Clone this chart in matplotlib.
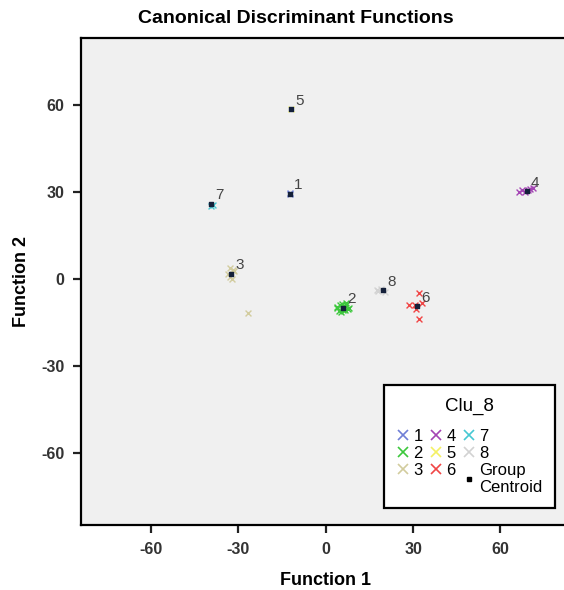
"""Canonical discriminant functions scatter (Clu_8), redrawn with matplotlib."""
import matplotlib

matplotlib.use("Agg")
import matplotlib.pyplot as plt
from matplotlib.lines import Line2D

plt.rcParams["font.family"] = ["Liberation Sans", "DejaVu Sans"]
plt.rcParams["axes.unicode_minus"] = False

CLUSTERS = ["1", "2", "3", "4", "5", "6", "7", "8"]
COLORS = ["#6f7fd6", "#3cc83c", "#d2cc9e", "#a444b4", "#f4f064", "#f04646", "#46c8d2", "#d2d2d2"]

# group centroids (function 1, function 2)
CENT_X = [-12.4, 5.9, -32.4, 69.0, -12.0, 31.4, -39.3, 19.7]
CENT_Y = [29.3, -10.0, 1.7, 30.3, 58.6, -9.6, 25.9, -4.0]

# individual cases per cluster
CASES_X = {
    "1": [-12.4, -12.2],
    "2": [4.0, 5.0, 6.5, 7.5, 5.5, 4.5, 7.0, 6.0, 3.8, 8.0, 5.2, 6.8],
    "3": [-33.5, -31.5, -32.8, -31.8, -33.0, -32.0, -26.6],
    "4": [66.5, 67.5, 68.5, 70.0, 71.0, 69.5],
    "5": [-12.0],
    "6": [32.0, 28.6, 32.0, 30.5, 33.0, 31.0],
    "7": [-39.5, -38.8],
    "8": [18.0, 19.0, 20.5, 17.5],
}
CASES_Y = {
    "1": [29.3, 29.5],
    "2": [-10.0, -9.0, -11.0, -10.5, -8.8, -11.2, -9.2, -10.8, -9.8, -10.2, -11.5, -8.5],
    "3": [1.5, 2.5, 0.5, 3.0, 3.5, 0.0, -12.0],
    "4": [30.0, 30.5, 30.0, 30.8, 31.2, 30.4],
    "5": [58.6],
    "6": [-4.9, -9.2, -13.9, -9.0, -8.5, -10.5],
    "7": [25.0, 25.4],
    "8": [-4.2, -3.6, -4.5, -4.0],
}

XTICKS = [-60, -30, 0, 30, 60]
YTICKS = [-60, -30, 0, 30, 60]


def main():
    fig = plt.figure(figsize=(5.64, 5.90), dpi=100)
    ax = fig.add_axes([0.1436, 0.1102, 0.86, 0.8254])
    ax.set_facecolor("#f0f0f0")

    for name, color in zip(CLUSTERS, COLORS):
        ax.scatter(CASES_X[name], CASES_Y[name], marker="x", s=18,
                   color=color, linewidths=1.0, zorder=2)

    ax.scatter(CENT_X, CENT_Y, marker="s", s=12, color="#14203a", zorder=3)
    for name, cx, cy in zip(CLUSTERS, CENT_X, CENT_Y):
        ax.annotate(name, (cx, cy), textcoords="offset points", xytext=(3, 3),
                    fontsize=11, color="#444444", zorder=4)

    ax.set_xlim(-84, 82.5)
    ax.set_ylim(-85, 83)
    ax.set_xticks(XTICKS)
    ax.set_yticks(YTICKS)
    ax.tick_params(length=6, width=1.6, labelsize=11.5, colors="#222222", pad=6)
    for lab in ax.get_xticklabels() + ax.get_yticklabels():
        lab.set_fontweight("bold")
        lab.set_color("#333333")
    for side in ("left", "bottom", "top"):
        ax.spines[side].set_linewidth(1.6)
    ax.spines["right"].set_visible(False)

    ax.set_xlabel("Function 1", fontsize=13, fontweight="bold", labelpad=11)
    ax.xaxis.label.set_x(0.505)
    ax.set_ylabel("Function 2", fontsize=13, fontweight="bold", labelpad=8)
    fig.text(0.525, 0.968, "Canonical Discriminant Functions", fontsize=14,
             fontweight="bold", ha="center", va="center")

    handles = [Line2D([], [], linestyle="none", marker="x", markersize=7,
                      markeredgewidth=1.2, color=c, label=n)
               for n, c in zip(CLUSTERS, COLORS)]
    handles.append(Line2D([], [], linestyle="none", marker="s", markersize=3.5,
                          color="#000000", label="Group\nCentroid"))
    leg = ax.legend(handles=handles, ncol=3, title="Clu_8", title_fontsize=13.5,
                    fontsize=12, loc="upper left", mode="expand",
                    bbox_to_anchor=(0.625, 0.031, 0.352, 0.256),
                    frameon=True, fancybox=False, framealpha=1, edgecolor="black",
                    handlelength=0.8, handletextpad=0.2, columnspacing=0.4,
                    labelspacing=0.12, borderpad=0.75, borderaxespad=0)
    leg.get_frame().set_linewidth(1.6)
    leg._legend_box.align = "center"
    leg._legend_box.sep = 10

    fig.savefig("out.png", dpi=100)


if __name__ == "__main__":
    main()
